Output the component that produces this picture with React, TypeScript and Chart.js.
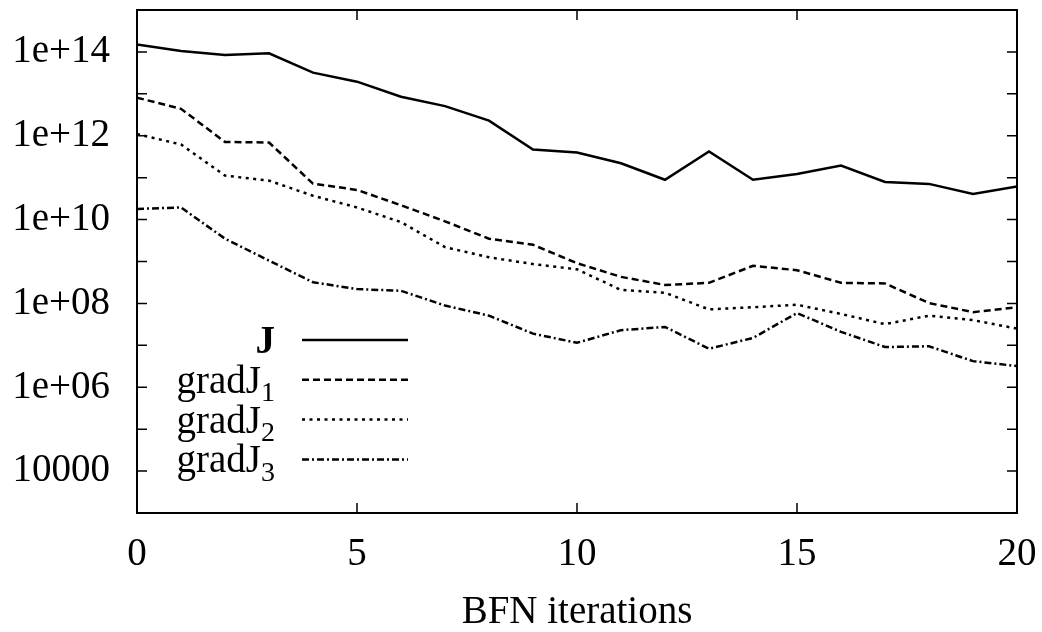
import React, { useEffect, useRef } from 'react';
import { Chart, registerables } from 'chart.js';

Chart.register(...registerables);

// ---- data ----
const iterations = [0, 1, 2, 3, 4, 5, 6, 7, 8, 9, 10, 11, 12, 13, 14, 15, 16, 17, 18, 19, 20];

const seriesJ = [1.5e14, 1.05e14, 8.5e13, 9.3e13, 3.2e13, 1.95e13, 8.5e12, 5.1e12, 2.3e12, 4.7e11, 4.0e11,
  2.2e11, 8.9e10, 4.2e11, 8.9e10, 1.23e11, 1.95e11, 7.9e10, 7.1e10, 4.1e10, 6.2e10];

const seriesGradJ1 = [8.1e12, 4.4e12, 7.1e11, 6.9e11, 7.2e10, 5.1e10, 2.2e10, 9.1e9, 3.5e9, 2.5e9, 9.1e8,
  4.3e8, 2.75e8, 3.1e8, 7.9e8, 6.2e8, 3.1e8, 3.0e8, 1.02e8, 6.2e7, 8.1e7];

const seriesGradJ2 = [1.1e12, 6.2e11, 1.12e11, 8.5e10, 3.7e10, 1.95e10, 8.7e9, 2.2e9, 1.26e9, 8.7e8, 6.5e8,
  2.1e8, 1.8e8, 7.2e7, 8.1e7, 9.3e7, 5.6e7, 3.2e7, 5.1e7, 4.0e7, 2.5e7];

const seriesGradJ3 = [1.8e10, 1.95e10, 3.5e9, 1.05e9, 3.2e8, 2.2e8, 2.0e8, 8.9e7, 5.1e7, 1.9e7, 1.15e7,
  2.3e7, 2.75e7, 8.3e6, 1.5e7, 5.9e7, 2.1e7, 9.1e6, 9.5e6, 4.2e6, 3.2e6];

const legendBase = ['J', 'gradJ', 'gradJ', 'gradJ'];
const legendSub = ['', '1', '2', '3'];

const yTickValues = [1e4, 1e5, 1e6, 1e7, 1e8, 1e9, 1e10, 1e11, 1e12, 1e13, 1e14];
const yTickLabels = ['10000', '', '1e+06', '', '1e+08', '', '1e+10', '', '1e+12', '', '1e+14'];
const xTickValues = [0, 5, 10, 15, 20];
const xTitle = 'BFN iterations';

const FONT = "'Liberation Serif', 'Times New Roman', serif";
const FS = 39;

const dashes = [[], [7, 4], [3, 4.5], [7, 3, 2, 3]];

const zeroPad = (s: any) => {
  s.paddingTop = 0;
  s.paddingBottom = 0;
  s.paddingLeft = 0;
  s.paddingRight = 0;
};

const framePlugin = {
  id: 'frame',
  afterDraw(chart: any) {
    const { ctx, chartArea: a, scales } = chart;
    const ys = scales.y;
    const xs = scales.x;
    ctx.save();
    ctx.strokeStyle = '#000';
    ctx.lineWidth = 2;
    ctx.setLineDash([]);
    ctx.strokeRect(a.left, a.top, a.right - a.left, a.bottom - a.top);
    const L = 10;
    ctx.lineWidth = 1.5;
    ctx.beginPath();
    for (const v of yTickValues) {
      const p = ys.getPixelForValue(v);
      ctx.moveTo(a.left, p); ctx.lineTo(a.left + L, p);
      ctx.moveTo(a.right, p); ctx.lineTo(a.right - L, p);
    }
    for (const v of xTickValues) {
      const p = xs.getPixelForValue(v);
      ctx.moveTo(p, a.bottom); ctx.lineTo(p, a.bottom - L);
      ctx.moveTo(p, a.top); ctx.lineTo(p, a.top + L);
    }
    ctx.stroke();

    // legend
    const textRight = 275;
    const lineX0 = 302;
    const lineX1 = 408;
    const row0 = 340;
    const rowStep = 39.8;
    chart.data.datasets.forEach((ds: any, i: number) => {
      const ry = row0 + i * rowStep;
      ctx.setLineDash(ds.borderDash || []);
      ctx.lineWidth = 2.5;
      ctx.beginPath();
      ctx.moveTo(lineX0, ry);
      ctx.lineTo(lineX1, ry);
      ctx.stroke();
      ctx.setLineDash([]);
      ctx.fillStyle = '#000';
      ctx.textAlign = 'right';
      ctx.textBaseline = 'alphabetic';
      const sub = legendSub[i];
      let right = textRight;
      if (sub) {
        ctx.font = `28px ${FONT}`;
        ctx.fillText(sub, right, ry + 13 + 8.5);
        right -= ctx.measureText(sub).width;
      }
      ctx.font = `${i === 0 ? 'bold ' : ''}${FS}px ${FONT}`;
      ctx.fillText(legendBase[i], right, ry + 13);
    });
    ctx.restore();
  },
};

export default function App() {
  const ref = useRef<HTMLCanvasElement>(null);
  useEffect(() => {
    if (!ref.current) return;
    const mk = (label: string, data: number[], i: number) => ({
      label,
      data: data.map((v, k) => ({ x: iterations[k], y: v })),
      borderColor: '#000',
      backgroundColor: '#000',
      borderWidth: 2.5,
      borderDash: dashes[i],
      pointRadius: 0,
      tension: 0,
      fill: false,
    });
    const chart = new Chart(ref.current, {
      type: 'line',
      data: {
        datasets: [
          mk(legendBase[0] + legendSub[0], seriesJ, 0),
          mk(legendBase[1] + legendSub[1], seriesGradJ1, 1),
          mk(legendBase[2] + legendSub[2], seriesGradJ2, 2),
          mk(legendBase[3] + legendSub[3], seriesGradJ3, 3),
        ],
      },
      options: {
        animation: false,
        responsive: false,
        devicePixelRatio: 1,
        layout: { padding: { left: 0, right: 25, top: 10, bottom: 0 } },
        plugins: { legend: { display: false }, tooltip: { enabled: false } },
        scales: {
          x: {
            type: 'linear',
            min: 0,
            max: 20,
            grid: { display: false, drawTicks: false },
            border: { display: false },
            afterFit: (s: any) => { s.height = 119; zeroPad(s); },
            afterBuildTicks: (s: any) => { s.ticks = xTickValues.map((v) => ({ value: v })); },
            ticks: {
              color: '#000',
              padding: 18,
              maxRotation: 0,
              font: { family: FONT, size: FS },
              callback: (v: any) => String(v),
            },
            title: {
              display: true,
              text: xTitle,
              color: '#000',
              font: { family: FONT, size: FS },
              padding: { top: 0, bottom: -4 },
            },
          },
          y: {
            type: 'logarithmic',
            min: 1e3,
            max: 1e15,
            grid: { display: false, drawTicks: false },
            border: { display: false },
            afterFit: (s: any) => { s.width = 137; zeroPad(s); },
            afterBuildTicks: (s: any) => { s.ticks = yTickValues.map((v) => ({ value: v })); },
            ticks: {
              color: '#000',
              padding: 27,
              autoSkip: false,
              font: { family: FONT, size: FS },
              callback: (_v: any, i: number) => yTickLabels[i],
            },
          },
        },
      } as any,
      plugins: [framePlugin],
    });
    return () => chart.destroy();
  }, []);
  return (
    <div style={{ position: 'fixed', left: 0, top: 0, width: 1042, height: 632, background: '#fff' }}>
      <canvas ref={ref} width={1042} height={632} style={{ display: 'block' }} />
    </div>
  );
}
